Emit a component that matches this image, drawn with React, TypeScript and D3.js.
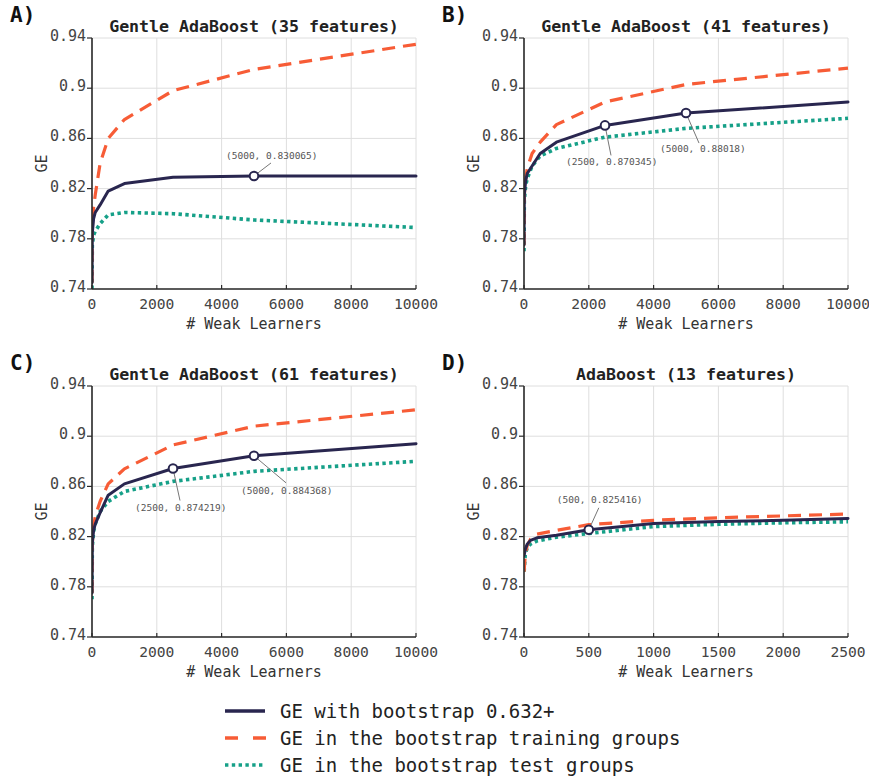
import React from 'react'
import * as d3 from 'd3'

// number of weak learners at which GE was evaluated
const xsGentle = [1, 10, 50, 100, 250, 500, 1000, 2500, 5000, 10000]
const xsAda = [1, 10, 25, 50, 100, 250, 500, 1000, 1500, 2000, 2500]

// A) Gentle AdaBoost, 35 features
const bootA = [0.745, 0.785, 0.796, 0.801, 0.807, 0.818, 0.824, 0.829, 0.830065, 0.830]
const trainA = [0.745, 0.790, 0.805, 0.815, 0.840, 0.860, 0.875, 0.898, 0.915, 0.935]
const testA = [0.740, 0.775, 0.783, 0.786, 0.792, 0.799, 0.801, 0.800, 0.795, 0.789]

// B) Gentle AdaBoost, 41 features
const bootB = [0.775, 0.815, 0.826, 0.832, 0.838, 0.848, 0.857, 0.870345, 0.88018, 0.889]
const trainB = [0.775, 0.815, 0.828, 0.836, 0.848, 0.857, 0.871, 0.889, 0.903, 0.916]
const testB = [0.770, 0.810, 0.822, 0.828, 0.838, 0.846, 0.852, 0.861, 0.868, 0.876]

// C) Gentle AdaBoost, 61 features
const bootC = [0.775, 0.815, 0.825, 0.830, 0.839, 0.853, 0.862, 0.874219, 0.884368, 0.894]
const trainC = [0.775, 0.815, 0.828, 0.836, 0.848, 0.862, 0.874, 0.893, 0.908, 0.921]
const testC = [0.770, 0.812, 0.824, 0.830, 0.840, 0.848, 0.856, 0.864, 0.872, 0.880]

// D) AdaBoost, 13 features
const bootD = [0.805, 0.810, 0.814, 0.817, 0.819, 0.821, 0.825416, 0.8305, 0.832, 0.833, 0.8345]
const trainD = [0.792, 0.806, 0.813, 0.818, 0.822, 0.825, 0.8295, 0.833, 0.835, 0.8365, 0.838]
const testD = [0.792, 0.806, 0.811, 0.814, 0.8165, 0.8195, 0.8225, 0.828, 0.8298, 0.831, 0.8318]

const yTicks = [0.74, 0.78, 0.82, 0.86, 0.9, 0.94]
const xTicksGentle = [0, 2000, 4000, 6000, 8000, 10000]
const xTicksAda = [0, 500, 1000, 1500, 2000, 2500]

const legendLabels = [
  'GE with bootstrap 0.632+',
  'GE in the bootstrap training groups',
  'GE in the bootstrap test groups',
]

const NAVY = '#29264f'
const ORANGE = '#f75c36'
const TEAL = '#16a088'
const MONO = '"DejaVu Sans Mono", "Liberation Mono", monospace'

const PW = 324
const PH = 251

// callouts: data point + where the label sits relative to the marker (px)
const panels = [
  {
    key: 'A', title: 'Gentle AdaBoost (35 features)', xs: xsGentle, xMax: 10000, xTicks: xTicksGentle,
    boot: bootA, train: trainA, test: testA, left: 92, top: 38,
    callouts: [{ x: 5000, y: 0.830065, dx: -28, dy: -17, lx: 17, ly: -13 }],
  },
  {
    key: 'B', title: 'Gentle AdaBoost (41 features)', xs: xsGentle, xMax: 10000, xTicks: xTicksGentle,
    boot: bootB, train: trainB, test: testB, left: 524, top: 38,
    callouts: [
      { x: 2500, y: 0.870345, dx: -39, dy: 40, lx: 6, ly: 30 },
      { x: 5000, y: 0.88018, dx: -26, dy: 39, lx: 13, ly: 30 },
    ],
  },
  {
    key: 'C', title: 'Gentle AdaBoost (61 features)', xs: xsGentle, xMax: 10000, xTicks: xTicksGentle,
    boot: bootC, train: trainC, test: testC, left: 92, top: 386,
    callouts: [
      { x: 2500, y: 0.874219, dx: -38, dy: 42, lx: 7, ly: 32 },
      { x: 5000, y: 0.884368, dx: -13, dy: 38, lx: 32, ly: 27 },
    ],
  },
  {
    key: 'D', title: 'AdaBoost (13 features)', xs: xsAda, xMax: 2500, xTicks: xTicksAda,
    boot: bootD, train: trainD, test: testD, left: 524, top: 386,
    callouts: [{ x: 500, y: 0.825416, dx: -32, dy: -27, lx: 10, ly: -22 }],
  },
]

const styles = [
  { color: NAVY, dash: undefined as string | undefined, cap: 'round', width: 3 },
  { color: ORANGE, dash: '13,8', cap: 'butt', width: 3.2 },
  { color: TEAL, dash: '3.4,3.4', cap: 'butt', width: 3.6 },
]

function Panel({ p }: { p: (typeof panels)[number] }) {
  const x = d3.scaleLinear().domain([0, p.xMax]).range([p.left, p.left + PW])
  const y = d3.scaleLinear().domain([0.74, 0.94]).range([p.top + PH, p.top])
  const line = d3.line<number>().x((_, i) => x(p.xs[i])).y(d => y(d))
  const clipId = `clip-${p.key}`
  const series = [p.test, p.train, p.boot]
  const seriesStyle = [styles[2], styles[1], styles[0]]

  return (
    <g>
      <defs>
        <clipPath id={clipId}>
          <rect x={p.left} y={p.top - 2} width={PW + 2} height={PH + 4} />
        </clipPath>
      </defs>
      <text x={p.left - 82} y={p.top - 16} fontFamily={MONO} fontWeight="bold" fontSize={21} fill="#111">
        {p.key + ')'}
      </text>
      <text x={p.left + PW / 2} y={p.top - 6} textAnchor="middle" fontFamily={MONO} fontWeight="bold" fontSize={16.6} fill="#222">
        {p.title}
      </text>
      {/* grid */}
      {p.xTicks.map(t => (
        <line key={'gx' + t} x1={x(t)} x2={x(t)} y1={p.top} y2={p.top + PH} stroke="#dedede" strokeWidth={1} />
      ))}
      {yTicks.map(t => (
        <line key={'gy' + t} x1={p.left} x2={p.left + PW} y1={y(t)} y2={y(t)} stroke="#dedede" strokeWidth={1} />
      ))}
      {/* series */}
      <g clipPath={`url(#${clipId})`}>
        {series.map((s, i) => (
          <path key={i} d={line(s) || ''} fill="none" stroke={seriesStyle[i].color} strokeWidth={seriesStyle[i].width}
            strokeDasharray={seriesStyle[i].dash} strokeLinecap={seriesStyle[i].cap as any} strokeLinejoin="round" />
        ))}
      </g>
      {/* axes */}
      <line x1={p.left} x2={p.left} y1={p.top} y2={p.top + PH} stroke="#2a2a2a" strokeWidth={1.6} />
      <line x1={p.left} x2={p.left + PW} y1={p.top + PH} y2={p.top + PH} stroke="#2a2a2a" strokeWidth={1.6} />
      {yTicks.map(t => (
        <g key={'ty' + t}>
          <line x1={p.left - 5} x2={p.left} y1={y(t)} y2={y(t)} stroke="#2a2a2a" strokeWidth={1.2} />
          <text x={p.left - 6} y={y(t)} dy="0.2em" textAnchor="end" fontFamily={MONO} fontSize={15} fill="#444">
            {d3.format('~g')(t)}
          </text>
        </g>
      ))}
      {p.xTicks.map(t => (
        <g key={'tx' + t}>
          <line x1={x(t)} x2={x(t)} y1={p.top + PH - 4} y2={p.top + PH} stroke="#2a2a2a" strokeWidth={1.2} />
          <text x={x(t)} y={p.top + PH + 20} textAnchor="middle" fontFamily={MONO} fontSize={14.6} fill="#444">
            {t}
          </text>
        </g>
      ))}
      <text x={p.left + PW / 2} y={p.top + PH + 40} textAnchor="middle" fontFamily={MONO} fontSize={15} fill="#333">
        # Weak Learners
      </text>
      <text transform={`translate(${p.left - 45},${p.top + PH / 2}) rotate(-90)`} textAnchor="middle"
        fontFamily={MONO} fontSize={15} fill="#333">
        GE
      </text>
      {/* callouts */}
      {p.callouts.map((c, i) => {
        const cx = x(c.x)
        const cy = y(c.y)
        const len = Math.hypot(c.lx, c.ly)
        return (
          <g key={'c' + i}>
            <line x1={cx + (c.lx / len) * 4.5} y1={cy + (c.ly / len) * 4.5} x2={cx + c.lx} y2={cy + c.ly}
              stroke="#666" strokeWidth={0.9} />
            <circle cx={cx} cy={cy} r={4.3} fill="#fff" stroke={NAVY} strokeWidth={2} />
            <text x={cx + c.dx} y={cy + c.dy} fontFamily={MONO} fontSize={9.5} fill="#555">
              {`(${c.x}, ${c.y})`}
            </text>
          </g>
        )
      })}
    </g>
  )
}

function Legend() {
  const rows = d3.scaleLinear().domain([0, 2]).range([711, 765])
  return (
    <g>
      {legendLabels.map((label, i) => (
        <g key={label}>
          <line x1={225} x2={i === 1 ? 266 : 265} y1={rows(i)} y2={rows(i)} stroke={styles[i].color} strokeWidth={3.4}
            strokeDasharray={i === 1 ? '13,15' : styles[i].dash} />
          <text x={280} y={rows(i)} dy="0.35em" fontFamily={MONO} fontSize={19} fill="#222">
            {label}
          </text>
        </g>
      ))}
    </g>
  )
}

export default function App() {
  return (
    <div style={{ position: 'absolute', left: 0, top: 0 }}>
      <svg width={869} height={781} style={{ display: 'block', background: '#fff' }}>
        {panels.map(p => (
          <Panel key={p.key} p={p} />
        ))}
        <Legend />
      </svg>
    </div>
  )
}
